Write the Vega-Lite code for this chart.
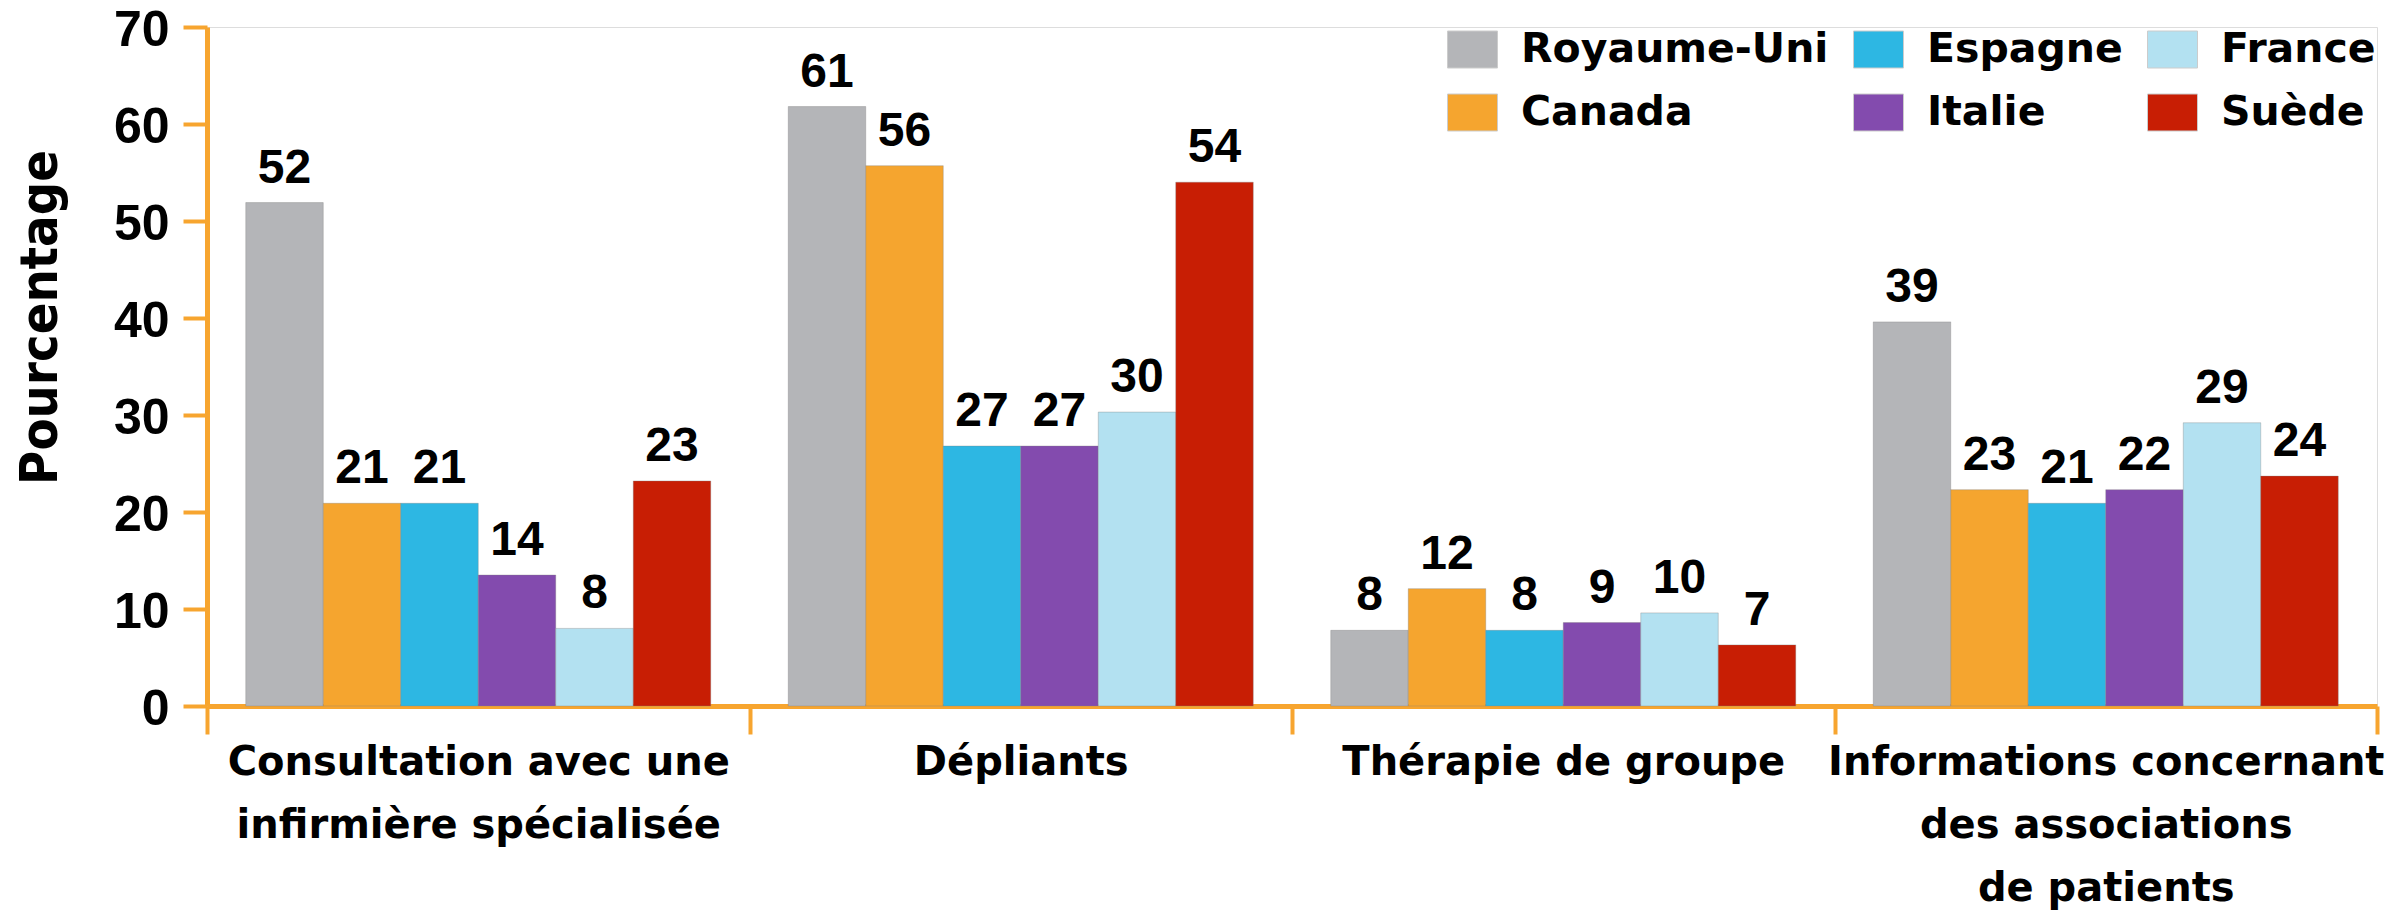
{
  "$schema": "https://vega.github.io/schema/vega-lite/v6.json",
  "autosize": {"type": "none"},
  "width": 2170,
  "height": 679,
  "padding": {"left": 207, "top": 27, "right": 20, "bottom": 212},
  "background": "white",
  "data": {
    "values": [
      {"categorie": "Consultation avec une|infirmière spécialisée", "pays": "Royaume-Uni", "valeur": 51.9, "etiquette": "52"},
      {"categorie": "Consultation avec une|infirmière spécialisée", "pays": "Canada", "valeur": 20.9, "etiquette": "21"},
      {"categorie": "Consultation avec une|infirmière spécialisée", "pays": "Espagne", "valeur": 20.9, "etiquette": "21"},
      {"categorie": "Consultation avec une|infirmière spécialisée", "pays": "Italie", "valeur": 13.5, "etiquette": "14"},
      {"categorie": "Consultation avec une|infirmière spécialisée", "pays": "France", "valeur": 8.0, "etiquette": "8"},
      {"categorie": "Consultation avec une|infirmière spécialisée", "pays": "Suède", "valeur": 23.2, "etiquette": "23"},
      {"categorie": "Dépliants", "pays": "Royaume-Uni", "valeur": 61.8, "etiquette": "61"},
      {"categorie": "Dépliants", "pays": "Canada", "valeur": 55.7, "etiquette": "56"},
      {"categorie": "Dépliants", "pays": "Espagne", "valeur": 26.8, "etiquette": "27"},
      {"categorie": "Dépliants", "pays": "Italie", "valeur": 26.8, "etiquette": "27"},
      {"categorie": "Dépliants", "pays": "France", "valeur": 30.3, "etiquette": "30"},
      {"categorie": "Dépliants", "pays": "Suède", "valeur": 54.0, "etiquette": "54"},
      {"categorie": "Thérapie de groupe", "pays": "Royaume-Uni", "valeur": 7.8, "etiquette": "8"},
      {"categorie": "Thérapie de groupe", "pays": "Canada", "valeur": 12.1, "etiquette": "12"},
      {"categorie": "Thérapie de groupe", "pays": "Espagne", "valeur": 7.8, "etiquette": "8"},
      {"categorie": "Thérapie de groupe", "pays": "Italie", "valeur": 8.6, "etiquette": "9"},
      {"categorie": "Thérapie de groupe", "pays": "France", "valeur": 9.6, "etiquette": "10"},
      {"categorie": "Thérapie de groupe", "pays": "Suède", "valeur": 6.3, "etiquette": "7"},
      {"categorie": "Informations concernant|des associations|de patients", "pays": "Royaume-Uni", "valeur": 39.6, "etiquette": "39"},
      {"categorie": "Informations concernant|des associations|de patients", "pays": "Canada", "valeur": 22.3, "etiquette": "23"},
      {"categorie": "Informations concernant|des associations|de patients", "pays": "Espagne", "valeur": 20.9, "etiquette": "21"},
      {"categorie": "Informations concernant|des associations|de patients", "pays": "Italie", "valeur": 22.3, "etiquette": "22"},
      {"categorie": "Informations concernant|des associations|de patients", "pays": "France", "valeur": 29.2, "etiquette": "29"},
      {"categorie": "Informations concernant|des associations|de patients", "pays": "Suède", "valeur": 23.7, "etiquette": "24"}
    ]
  },
  "encoding": {
    "x": {
      "field": "categorie",
      "type": "nominal",
      "sort": null,
      "scale": {"paddingInner": 0, "paddingOuter": 0},
      "axis": {
        "title": null,
        "labelExpr": "split(datum.label, '|')",
        "labelAngle": 0,
        "labelFont": "DejaVu Sans",
        "labelFontWeight": "bold",
        "labelFontSize": 40,
        "labelLineHeight": 63,
        "labelColor": "black",
        "labelPadding": 8,
        "labelOverlap": false,
        "labelBound": false,
        "labelLimit": 0,
        "labelBaseline": "top",
        "tickBand": "extent",
        "tickSize": 28,
        "tickWidth": 4,
        "tickColor": "#F7A52F",
        "domainColor": "#F7A52F",
        "domainWidth": 5
      }
    },
    "xOffset": {
      "field": "pays",
      "type": "nominal",
      "sort": ["Royaume-Uni", "Canada", "Espagne", "Italie", "France", "Suède"],
      "scale": {"paddingInner": 0, "paddingOuter": 0.5}
    },
    "y": {
      "field": "valeur",
      "type": "quantitative",
      "scale": {"domain": [0, 70], "nice": false},
      "axis": {
        "title": "Pourcentage",
        "titleFont": "DejaVu Sans Condensed",
        "titleFontWeight": "bold",
        "titleFontSize": 52,
        "titleColor": "black",
        "titlePadding": 46,
        "titleY": 290,
        "values": [0, 10, 20, 30, 40, 50, 60, 70],
        "grid": false,
        "labelFont": "Liberation Sans",
        "labelFontWeight": "bold",
        "labelFontSize": 50,
        "labelColor": "black",
        "labelPadding": 14,
        "labelOffset": 3,
        "tickSize": 24,
        "tickWidth": 4,
        "tickColor": "#F7A52F",
        "domainColor": "#F7A52F",
        "domainWidth": 5
      }
    }
  },
  "layer": [
    {
      "mark": {"type": "bar", "stroke": "#7f7f7f", "strokeWidth": 1, "strokeOpacity": 0.35},
      "encoding": {
        "color": {
          "field": "pays",
          "type": "nominal",
          "scale": {
            "domain": ["Royaume-Uni", "Espagne", "France", "Canada", "Italie", "Suède"],
            "range": ["#B4B5B8", "#2DB7E3", "#B3E1F1", "#F5A52F", "#834BAE", "#C81E04"]
          },
          "legend": {
            "title": null,
            "orient": "none",
            "legendX": 1240,
            "legendY": -3,
            "columns": 3,
            "direction": "horizontal",
            "padding": 0,
            "symbolType": "M-1,-0.74L1,-0.74L1,0.74L-1,0.74Z",
            "symbolSize": 2500,
            "symbolStrokeWidth": 1,
            "symbolStrokeColor": "#cccccc",
            "symbolOpacity": 1,
            "labelFont": "DejaVu Sans",
            "labelFontWeight": "bold",
            "labelFontSize": 41,
            "labelColor": "black",
            "labelLimit": 0,
            "labelOffset": 23,
            "columnPadding": 22,
            "rowPadding": 17
          }
        }
      }
    },
    {
      "mark": {"type": "text", "font": "Liberation Sans", "fontWeight": "bold", "fontSize": 48, "baseline": "alphabetic", "dy": -20, "color": "black"},
      "encoding": {
        "text": {"field": "etiquette"}
      }
    }
  ]
}
